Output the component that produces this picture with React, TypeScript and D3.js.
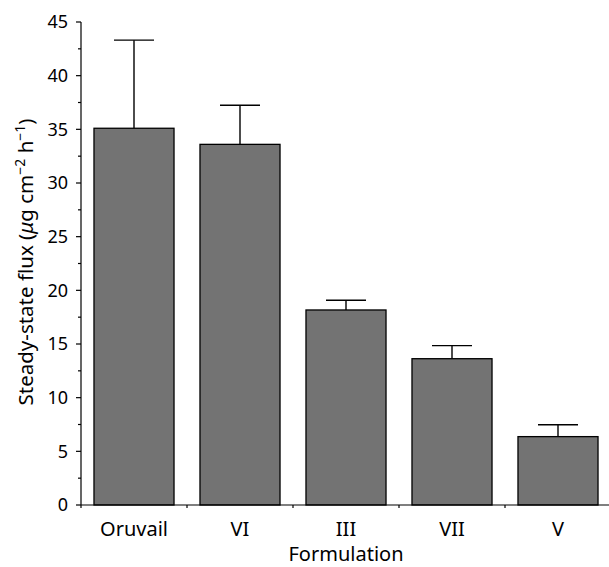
import React from "react";
import * as d3 from "d3";

const categories = ["Oruvail", "VI", "III", "VII", "V"];
const fluxMeans = [35.1, 33.6, 18.17, 13.63, 6.37];
const fluxUpper = [43.31, 37.25, 19.08, 14.85, 7.48];
const yTicks = [0, 5, 10, 15, 20, 25, 30, 35, 40, 45];
const yMinorTicks = [2.5, 7.5, 12.5, 17.5, 22.5, 27.5, 32.5, 37.5, 42.5];

const W = 609;
const H = 567;
const FONT = "'Noto Sans', sans-serif";

export default function App() {
  const x = d3.scaleBand<string>().domain(categories).range([81, 611]).paddingInner(0.245).paddingOuter(0.1225);
  const y = d3.scaleLinear().domain([0, 45]).range([505, 22]);
  const bw = x.bandwidth();
  const step = x.step();
  const capW = 40;
  return (
    <svg width={W} height={H} style={{ position: "absolute", left: 0, top: 0, background: "#fff" }} fontFamily={FONT}>
      {categories.map((c, i) => {
        const x0 = x(c)!;
        const cx = x0 + bw / 2;
        return (
          <g key={c}>
            <line x1={cx} x2={cx} y1={y(fluxMeans[i])} y2={y(fluxUpper[i])} stroke="#000" strokeWidth={1.4} />
            <line x1={cx - capW / 2} x2={cx + capW / 2} y1={y(fluxUpper[i])} y2={y(fluxUpper[i])} stroke="#000" strokeWidth={1.4} />
            <rect x={x0} y={y(fluxMeans[i])} width={bw} height={y(0) - y(fluxMeans[i])} fill="#737373" stroke="#000" strokeWidth={1.3} />
          </g>
        );
      })}
      <line x1={81} x2={81} y1={y(45)} y2={y(0)} stroke="#000" strokeWidth={1.2} />
      {yTicks.map((t) => (
        <g key={t}>
          <line x1={76} x2={81} y1={y(t)} y2={y(t)} stroke="#000" strokeWidth={1.2} />
          <text x={68} y={y(t)} dy="0.36em" textAnchor="end" fontSize={18}>{t}</text>
        </g>
      ))}
      {yMinorTicks.map((t) => (
        <line key={t} x1={78} x2={81} y1={y(t)} y2={y(t)} stroke="#000" strokeWidth={1.2} />
      ))}
      <line x1={81} x2={W} y1={y(0)} y2={y(0)} stroke="#000" strokeWidth={1.2} />
      {categories.map((c) => (
        <g key={c}>
          <line x1={x(c)! - (step - bw) / 2} x2={x(c)! - (step - bw) / 2} y1={y(0)} y2={y(0) + 3} stroke="#000" strokeWidth={1.2} />
          <text x={x(c)! + bw / 2} y={536} textAnchor="middle" fontSize={20}>{c}</text>
        </g>
      ))}
      <text x={346} y={561} textAnchor="middle" fontSize={20}>Formulation</text>
      <text transform="translate(33,262) rotate(-90)" textAnchor="middle" fontSize={20.5}>
        Steady-state flux (<tspan fontStyle="italic">μ</tspan>g cm<tspan dy="-8" fontSize={14}>−2</tspan><tspan dy="8"> h</tspan><tspan dy="-8" fontSize={14}>−1</tspan><tspan dy="8">)</tspan>
      </text>
    </svg>
  );
}
